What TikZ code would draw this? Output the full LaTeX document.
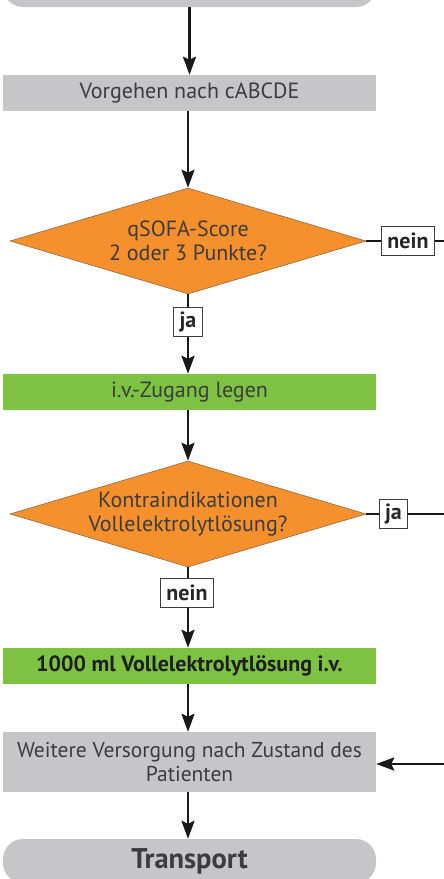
\documentclass[tikz,border=0pt]{standalone}
\usepackage{fontspec}
\setmainfont{PT Sans}
\usetikzlibrary{shapes.geometric,arrows.meta}
\definecolor{boxgray}{HTML}{C6C6C8}
\definecolor{decorange}{HTML}{F5902C}
\definecolor{actgreen}{HTML}{7DC242}
\definecolor{txtgray}{HTML}{3C3C3E}
\definecolor{edgeorange}{HTML}{8C6A4A}
\tikzset{
  x=1pt, y=1pt,
  base/.style={inner sep=0pt, align=center, text=txtgray,
    font=\fontsize{22}{24}\selectfont},
  graybox/.style={base, fill=boxgray, minimum width=373pt},
  greenbox/.style={base, fill=actgreen, minimum width=373pt, minimum height=36pt},
  terminal/.style={base, fill=boxgray, rounded corners=20pt, minimum width=373pt},
  decision/.style={base, diamond, fill=decorange, draw=edgeorange, line width=0.6pt,
    shape aspect=3.36, minimum width=356pt, minimum height=106pt},
  tag/.style={draw=txtgray, fill=white, line width=1.1pt, inner xsep=6pt,
    minimum height=29pt, text=black!85, font=\fontsize{22}{24}\selectfont\bfseries},
  flow/.style={line width=2.6pt, black!90},
  arrow/.style={flow, -{Stealth[length=18pt, width=13pt, inset=3pt]}},
}
\begin{document}
\begin{tikzpicture}
\useasboundingbox (0,0) rectangle (444,-879);
\clip (0,0) rectangle (444,-879);

% process chain
\node[terminal, minimum height=50pt] (start) at (189.5,18) {};
\node[graybox, minimum height=36pt] (abcde) at (189.5,-93) {Vorgehen nach cABCDE};
\node[decision] (qsofa) at (188,-241) {qSOFA-Score\\2 oder 3 Punkte?};
\node[greenbox] (zugang) at (189.5,-392) {i.v.-Zugang legen};
\node[decision] (kontra) at (188,-514) {Kontraindikationen\\Vollelektrolytlösung?};
\node[greenbox, text=black!88, font=\fontsize{22}{24}\selectfont\bfseries] (vel) at (189.5,-666) {1000 ml Vollelektrolytlösung i.v.};
\node[graybox, minimum height=60pt, font=\fontsize{21.5}{24}\selectfont] (weiter) at (189.5,-762) {Weitere Versorgung nach Zustand des\\Patienten};
\node[terminal, minimum height=44pt, text=txtgray, font=\fontsize{28.5}{30}\selectfont\bfseries] (transport) at (189.5,-861) {Transport};

% answer tags
\node[tag] (ja1) at (188,-322) {ja};
\node[tag] (nein1) at (408,-241) {nein};
\node[tag] (ja2) at (393.5,-514) {ja};
\node[tag] (nein2) at (187,-593) {nein};

% free ends at the right margin
\coordinate (out1) at (450,-241);
\coordinate (out2) at (450,-514);
\coordinate (in3) at (450,-764);

% connectors
\draw[arrow] (start.south -| abcde.north) -- (abcde.north);
\draw[arrow] (abcde.south -| qsofa.north) -- (qsofa.north);
\draw[flow] (qsofa.south) -- (ja1.north);
\draw[arrow] (ja1.south) -- (ja1.south |- zugang.north);
\draw[arrow] (zugang.south -| kontra.north) -- (kontra.north);
\draw[flow] (kontra.south) -- (kontra.south |- nein2.north);
\draw[arrow] (kontra.south |- nein2.south) -- (kontra.south |- vel.north);
\draw[arrow] (vel.south -| kontra.south) -- (kontra.south |- weiter.north);
\draw[arrow] (weiter.south -| kontra.south) -- (kontra.south |- transport.north);
\draw[flow] (qsofa.east) -- (nein1.west);
\draw[flow] (nein1.east) -- (out1);
\draw[flow] (kontra.east) -- (ja2.west);
\draw[flow] (ja2.east) -- (out2);
\draw[arrow] (in3) -- (in3 -| weiter.east);
\end{tikzpicture}
\end{document}
